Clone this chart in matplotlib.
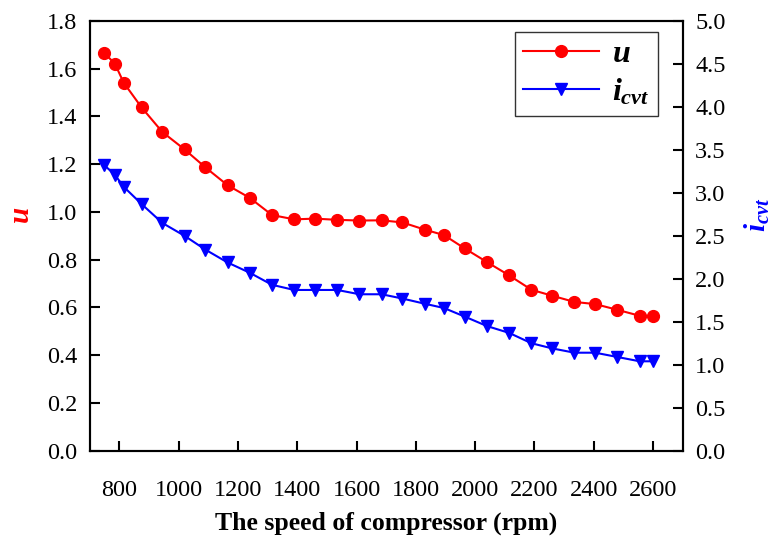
import matplotlib
matplotlib.use("Agg")
import matplotlib.pyplot as plt

plt.rcParams['font.family'] = ['Liberation Serif', 'DejaVu Serif']
plt.rcParams['mathtext.fontset'] = 'custom'
plt.rcParams['mathtext.it'] = 'Liberation Serif:bold:italic'
plt.rcParams['mathtext.rm'] = 'Liberation Serif:bold'
plt.rcParams['mathtext.bf'] = 'Liberation Serif:bold'

speed = [750, 785, 815, 875, 945, 1020, 1090, 1165, 1240, 1315, 1390, 1460,
         1535, 1610, 1685, 1755, 1830, 1895, 1965, 2040, 2115, 2190, 2260,
         2335, 2405, 2480, 2555, 2600]
u_vals = [1.665, 1.621, 1.541, 1.438, 1.335, 1.262, 1.187, 1.112, 1.059, 0.987,
          0.969, 0.972, 0.967, 0.964, 0.965, 0.956, 0.926, 0.903, 0.847, 0.790,
          0.734, 0.674, 0.649, 0.623, 0.614, 0.590, 0.565, 0.565]
icvt_vals = [3.32, 3.21, 3.07, 2.87, 2.65, 2.50, 2.34, 2.19, 2.07, 1.93,
             1.87, 1.87, 1.87, 1.82, 1.82, 1.77, 1.71, 1.66, 1.56, 1.45,
             1.37, 1.25, 1.19, 1.14, 1.14, 1.09, 1.04, 1.04]

xticks = [800, 1000, 1200, 1400, 1600, 1800, 2000, 2200, 2400, 2600]
u_ticks = [0.0, 0.2, 0.4, 0.6, 0.8, 1.0, 1.2, 1.4, 1.6, 1.8]
i_ticks = [0.0, 0.5, 1.0, 1.5, 2.0, 2.5, 3.0, 3.5, 4.0, 4.5, 5.0]

fig = plt.figure(figsize=(7.77, 5.42), dpi=100)
ax = fig.add_axes([0.1154, 0.1685, 0.7632, 0.7928])
ax2 = ax.twinx()

l1, = ax.plot(speed, u_vals, color='#ff0000', lw=1.5, marker='o', ms=8.5,
              label=r'$u$')
l2, = ax2.plot(speed, icvt_vals, color='#0000ff', lw=1.5, marker='v', ms=9,
               label=r'$i_{cvt}$')

ax.set_xlim(700, 2700)
ax.set_ylim(0, 1.8)
ax2.set_ylim(0, 5.0)
ax.set_xticks(xticks)
ax.set_yticks(u_ticks)
ax2.set_yticks(i_ticks)
ax.set_yticklabels([f"{v:.1f}" for v in u_ticks])
ax2.set_yticklabels([f"{v:.1f}" for v in i_ticks])

for a in (ax, ax2):
    for s in a.spines.values():
        s.set_linewidth(1.5)
    a.tick_params(direction='in', length=7, width=1.5, labelsize=17.5)
ax.tick_params(axis='x', pad=21)
ax.tick_params(axis='y', pad=9)
ax2.tick_params(axis='y', pad=9)

ax.set_xlabel('The speed of compressor (rpm)', fontsize=18.5, fontweight='bold',
              labelpad=8)
fig.text(22 / 777, 1 - 215 / 542, r'$u$', color='#ff0000', fontsize=21,
         rotation=90, ha='center', va='center')
fig.text(757 / 777, 1 - 215 / 542, r'$i_{cvt}$', color='#0000ff', fontsize=21,
         rotation=90, ha='center', va='center')

leg = ax.legend(handles=[l1, l2], loc='upper right',
                bbox_to_anchor=(0.958, 0.975), borderaxespad=0,
                prop={'size': 23},
                frameon=True, fancybox=False, edgecolor='black',
                handlelength=2.4, borderpad=0.25, labelspacing=0.25,
                handletextpad=0.4)
leg.get_frame().set_linewidth(1.0)

fig.savefig('out.png', dpi=100)
